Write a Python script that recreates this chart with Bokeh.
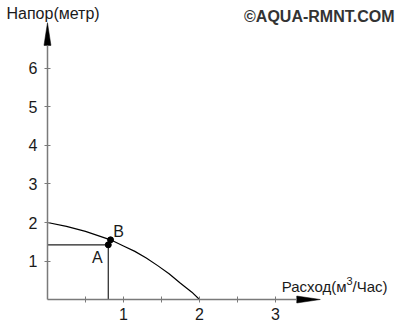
from bokeh.plotting import figure
from bokeh.models import FixedTicker, Label, ColumnDataSource
from bokeh.core.properties import value
from bokeh.embed import file_html
from bokeh.resources import INLINE

# data
flow = [0.0, 0.25, 0.5, 0.83, 1.0, 1.15, 1.3, 1.45, 1.6, 1.75, 1.9, 2.0]
head = [2.0, 1.9, 1.77, 1.55, 1.39, 1.25, 1.08, 0.88, 0.67, 0.42, 0.19, 0.0]
pt_names = ["A", "B"]
pt_flow = [0.80, 0.83]
pt_head = [1.42, 1.55]
x_ticks = [1, 2, 3]
x_minor = [0.5, 1.5, 2.5]
y_ticks = [1, 2, 3, 4, 5, 6]
x_title = ["Расход(м", "3", "/Час)"]
y_title = "Напор(метр)"
watermark = "©AQUA-RMNT.COM"

FONT = "Liberation Sans"
AX = "#7a7a7a"
TXT = "#1a1a1a"

p = figure(width=400, height=332, output_backend="svg", toolbar_location=None,
           x_range=(-0.618, 4.645), y_range=(-0.857, 7.766),
           min_border=0, min_border_left=0, min_border_right=0,
           min_border_top=0, min_border_bottom=0)
p.outline_line_color = None
p.grid.visible = False
p.background_fill_color = "white"
p.border_fill_color = "white"

# axes at the origin
xa = p.xaxis[0]
ya = p.yaxis[0]
xa.fixed_location = 0
ya.fixed_location = 0
xa.ticker = FixedTicker(ticks=x_ticks, minor_ticks=x_minor)
ya.ticker = FixedTicker(ticks=y_ticks, minor_ticks=[])
xa.bounds = (0, 3.28)
ya.bounds = (0, 6.6)
for a in (xa, ya):
    a.axis_line_color = AX
    a.axis_line_width = 1.5
    a.major_tick_line_color = AX
    a.minor_tick_line_color = AX
    a.major_tick_in = 3
    a.major_tick_out = 3
    a.minor_tick_in = 3
    a.minor_tick_out = 3
    a.major_label_text_font = FONT
    a.major_label_text_font_size = "16px"
    a.major_label_text_color = TXT
xa.major_label_standoff = 5
ya.major_label_standoff = 7

# arrow heads of the axes
p.patch([3.28, 3.59, 3.28], [0.091, 0.0, -0.091], color="black", line_width=0.5)
p.patch([-0.046, 0.0, 0.046], [6.6, 7.19, 6.6], color="black", line_width=0.5)

# pump curve
p.line(flow, head, line_color="black", line_width=1.2)

# guide lines to A
p.line([0, pt_flow[0], pt_flow[0]], [pt_head[0], pt_head[0], 0], line_color="#222222", line_width=1.2)

# points
src = ColumnDataSource(dict(x=pt_flow, y=pt_head, t=pt_names,
                            dx=[-11, 8], dy=[13, -8]))
p.scatter("x", "y", source=src, size=6, color="black")
p.text("x", "y", text="t", source=src, x_offset="dx", y_offset="dy",
       text_font=value(FONT), text_font_size="16px", text_color=TXT,
       text_align="center", text_baseline="middle")

# titles and watermark
p.add_layout(Label(x=6, y=319, x_units="screen", y_units="screen", text=y_title,
                   text_font=FONT, text_font_size="16px", text_color=TXT,
                   text_align="left", text_baseline="middle"))
p.add_layout(Label(x=346, y=46, x_units="screen", y_units="screen", text=x_title[0],
                   text_font=FONT, text_font_size="15px", text_color=TXT,
                   text_align="right", text_baseline="alphabetic"))
p.add_layout(Label(x=346, y=52, x_units="screen", y_units="screen", text=x_title[1],
                   text_font=FONT, text_font_size="11px", text_color=TXT,
                   text_align="left", text_baseline="alphabetic"))
p.add_layout(Label(x=352, y=46, x_units="screen", y_units="screen", text=x_title[2],
                   text_font=FONT, text_font_size="15px", text_color=TXT,
                   text_align="left", text_baseline="alphabetic"))
p.add_layout(Label(x=394, y=316, x_units="screen", y_units="screen", text=watermark,
                   text_font=FONT, text_font_size="16px", text_font_style="bold",
                   text_color="#333333", text_align="right", text_baseline="middle"))

open("out.html", "w").write(file_html(p, INLINE))
